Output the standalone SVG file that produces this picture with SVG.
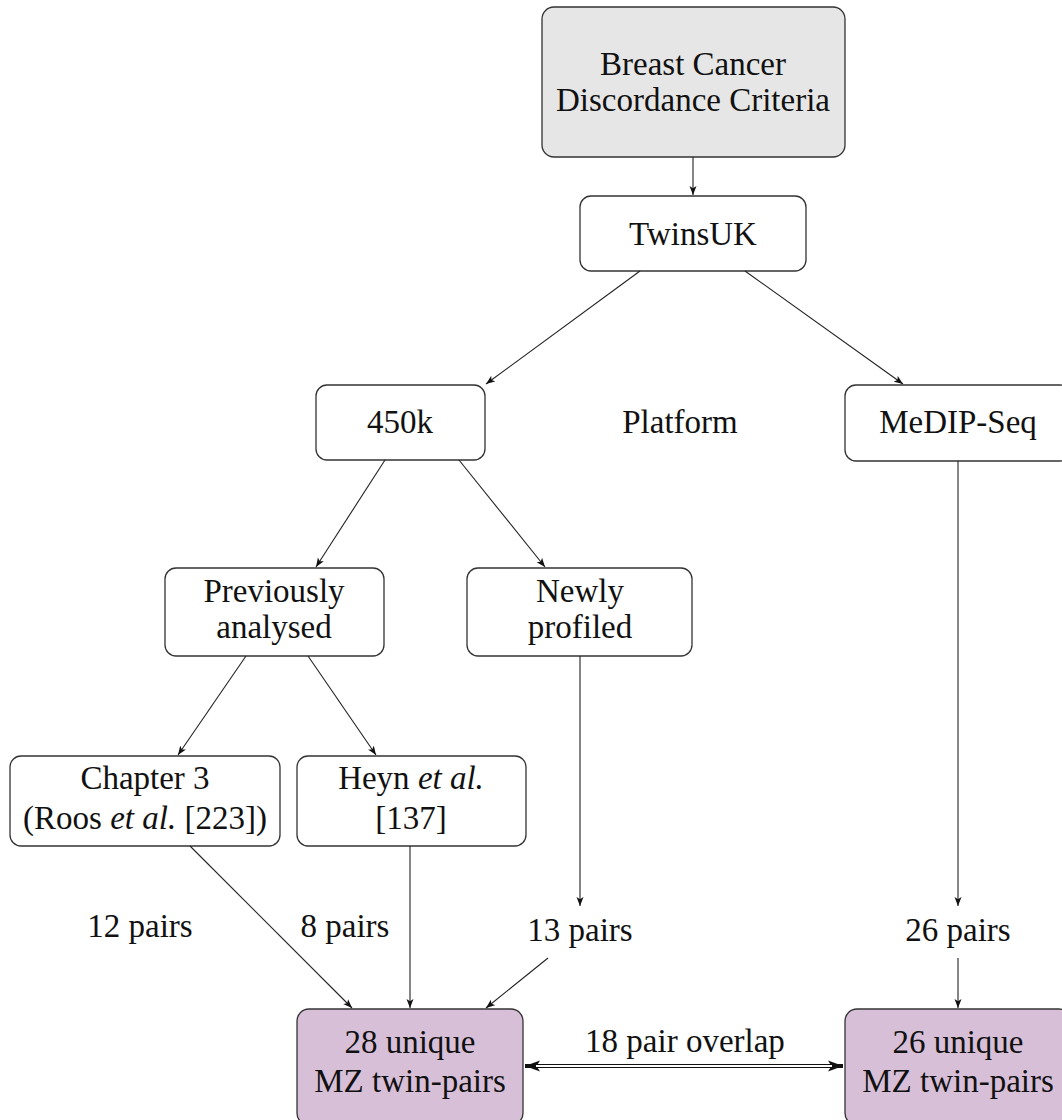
<svg xmlns="http://www.w3.org/2000/svg" width="1062" height="1120" viewBox="0 0 1062 1120">
<style>
  .box { fill: #ffffff; stroke: #333333; stroke-width: 1.3; }
  .grey { fill: #e6e6e6; }
  .purple { fill: #d8bfd8; }
  text { font-family: "Liberation Serif", "DejaVu Serif", serif; font-size: 33px; fill: #111111; text-anchor: middle; }
  .conn line { stroke: #222222; stroke-width: 1.1; fill: none; }
  .it { font-style: italic; }
</style>
<defs>
  <marker id="arr" markerUnits="userSpaceOnUse" markerWidth="10" markerHeight="8" refX="9" refY="4" orient="auto">
    <path d="M0,0.5 L9,4 L0,7.5 L2.2,4 Z" fill="#111111"/>
  </marker>
  <marker id="darr" markerUnits="userSpaceOnUse" markerWidth="16" markerHeight="12" refX="15" refY="6" orient="auto-start-reverse">
    <path d="M0,0.5 L15,6 L0,11.5 L3.5,6 Z" fill="#111111"/>
  </marker>
</defs>

<g id="node-criteria">
  <rect class="box grey" x="542" y="7" width="303" height="150" rx="12"/>
  <text x="693" y="75">Breast Cancer</text>
  <text x="693" y="111">Discordance Criteria</text>
</g>
<g id="node-twinsuk">
  <rect class="box" x="580" y="196" width="226" height="75" rx="11"/>
  <text x="693" y="245">TwinsUK</text>
</g>
<g id="node-450k">
  <rect class="box" x="316" y="385" width="169" height="75" rx="11"/>
  <text x="400" y="433">450k</text>
</g>
<g id="label-platform">
  <text x="680" y="433">Platform</text>
</g>
<g id="node-medip">
  <rect class="box" x="845" y="385" width="226" height="76" rx="11"/>
  <text x="958" y="433">MeDIP-Seq</text>
</g>
<g id="node-previously">
  <rect class="box" x="165" y="568" width="219" height="88" rx="11"/>
  <text x="274" y="602">Previously</text>
  <text x="274" y="638">analysed</text>
</g>
<g id="node-newly">
  <rect class="box" x="467" y="568" width="225" height="88" rx="11"/>
  <text x="580" y="602">Newly</text>
  <text x="580" y="638">profiled</text>
</g>
<g id="node-chapter3">
  <rect class="box" x="10" y="756" width="270" height="90" rx="11"/>
  <text x="145" y="789">Chapter 3</text>
  <text x="145" y="829">(Roos <tspan class="it">et al.</tspan> [223])</text>
</g>
<g id="node-heyn">
  <rect class="box" x="297" y="756" width="229" height="90" rx="11"/>
  <text x="411" y="789">Heyn <tspan class="it">et al.</tspan></text>
  <text x="411" y="829">[137]</text>
</g>
<g id="label-12">
  <text x="140" y="937">12 pairs</text>
</g>
<g id="label-8">
  <text x="345" y="937">8 pairs</text>
</g>
<g id="label-13">
  <text x="580" y="941">13 pairs</text>
</g>
<g id="label-26">
  <text x="958" y="941">26 pairs</text>
</g>
<g id="node-28unique">
  <rect class="box purple" x="297" y="1009" width="226" height="116" rx="12"/>
  <text x="410" y="1053">28 unique</text>
  <text x="410" y="1092">MZ twin-pairs</text>
</g>
<g id="node-26unique">
  <rect class="box purple" x="845" y="1009" width="226" height="116" rx="12"/>
  <text x="958" y="1053">26 unique</text>
  <text x="958" y="1092">MZ twin-pairs</text>
</g>
<g id="label-overlap">
  <text x="685" y="1052">18 pair overlap</text>
</g>

<g class="conn" id="connectors">
  <line x1="693" y1="157" x2="693" y2="195" marker-end="url(#arr)"/>
  <line x1="640" y1="271" x2="486" y2="384" marker-end="url(#arr)"/>
  <line x1="745" y1="271" x2="903" y2="384" marker-end="url(#arr)"/>
  <line x1="385" y1="460" x2="316" y2="567" marker-end="url(#arr)"/>
  <line x1="459" y1="460" x2="545" y2="567" marker-end="url(#arr)"/>
  <line x1="246" y1="656" x2="178" y2="755" marker-end="url(#arr)"/>
  <line x1="308" y1="656" x2="376" y2="755" marker-end="url(#arr)"/>
  <line x1="580" y1="656" x2="580" y2="906" marker-end="url(#arr)"/>
  <line x1="958" y1="461" x2="958" y2="906" marker-end="url(#arr)"/>
  <line x1="190" y1="846" x2="352" y2="1008" marker-end="url(#arr)"/>
  <line x1="410" y1="846" x2="410" y2="1008" marker-end="url(#arr)"/>
  <line x1="548" y1="958" x2="486" y2="1008" marker-end="url(#arr)"/>
  <line x1="958" y1="958" x2="958" y2="1008" marker-end="url(#arr)"/>
  <line x1="525" y1="1066" x2="843" y2="1066" style="stroke:#111111;stroke-width:4.2" marker-start="url(#darr)" marker-end="url(#darr)"/>
  <line x1="536" y1="1066" x2="832" y2="1066" style="stroke:#ffffff;stroke-width:1.8"/>
</g>
</svg>
